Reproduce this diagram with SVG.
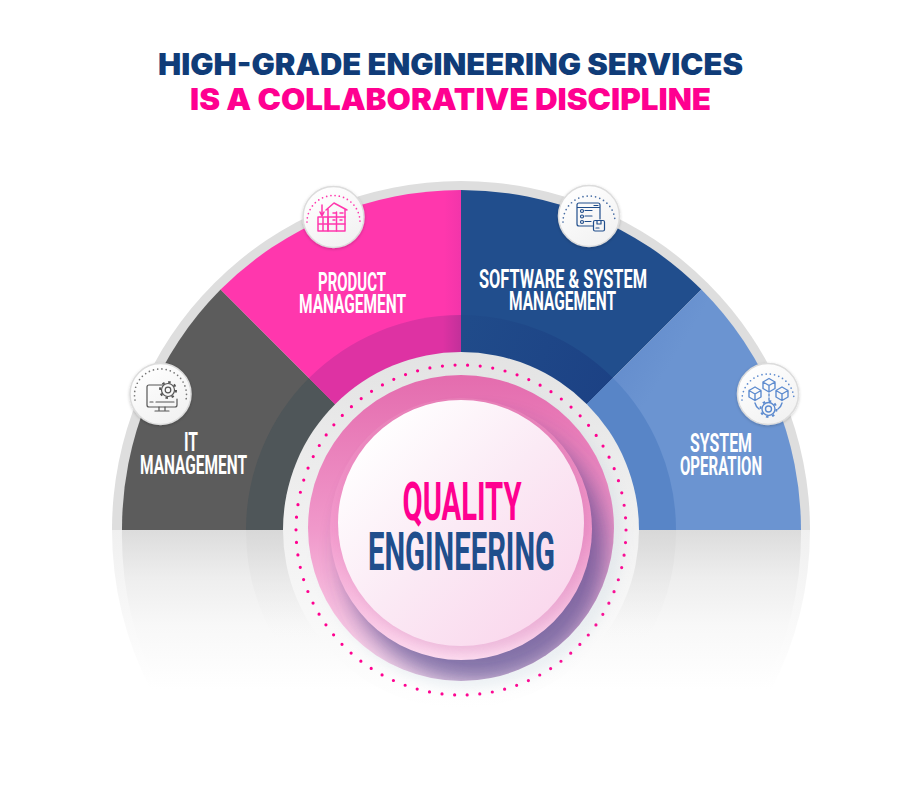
<svg xmlns="http://www.w3.org/2000/svg" xmlns:xlink="http://www.w3.org/1999/xlink" width="900" height="800" viewBox="0 0 900 800">
<style>
.title{font-family:"Inter","Liberation Sans",sans-serif;font-weight:900;font-size:29.500px}
.lab{font-family:"Roboto","Liberation Sans",sans-serif;font-weight:700;font-size:25px;fill:#fff;text-anchor:middle}
.big{font-family:"Roboto","Liberation Sans",sans-serif;font-weight:700;font-size:53px;text-anchor:middle}
.ic{fill:none;stroke-width:1.2;stroke-linejoin:round;stroke-linecap:round}
.badge{fill:url(#badge);stroke:#dcdcdc;stroke-width:1.5}
.dots{fill:none;stroke-width:1.7;stroke-linecap:round;stroke-dasharray:0 4.3}
</style>
<defs>
<linearGradient id="fadeRing" x1="0" y1="530" x2="0" y2="690" gradientUnits="userSpaceOnUse"><stop offset="0" stop-color="#f0f0f0"/><stop offset="1" stop-color="#fff"/></linearGradient>
<linearGradient id="fadeSec" x1="0" y1="530" x2="0" y2="690" gradientUnits="userSpaceOnUse"><stop offset="0" stop-color="#dcdcdc"/><stop offset=".3" stop-color="#eeeeee"/><stop offset=".6" stop-color="#f8f8f8"/><stop offset="1" stop-color="#fff"/></linearGradient>
<linearGradient id="fadeIn" x1="0" y1="530" x2="0" y2="640" gradientUnits="userSpaceOnUse"><stop offset="0" stop-color="#d8d8d8"/><stop offset="1" stop-color="#f6f6f6" stop-opacity="0"/></linearGradient>
<linearGradient id="halo" x1="0" y1="352" x2="0" y2="708" gradientUnits="userSpaceOnUse"><stop offset="0" stop-color="#e3e3e3"/><stop offset=".5" stop-color="#f1f1f1"/><stop offset="1" stop-color="#fff"/></linearGradient>
<linearGradient id="ringA" x1="0" y1="375" x2="0" y2="682" gradientUnits="userSpaceOnUse"><stop offset="0" stop-color="#e46cae"/><stop offset=".5" stop-color="#f098ca"/><stop offset="1" stop-color="#fde0f1"/></linearGradient>
<linearGradient id="ringB" x1="0" y1="398" x2="0" y2="660" gradientUnits="userSpaceOnUse"><stop offset="0" stop-color="#e880b8"/><stop offset=".5" stop-color="#f299cc"/><stop offset="1" stop-color="#fddcf0"/></linearGradient>
<linearGradient id="disc" x1="0.15" y1="0.1" x2="0.9" y2="0.85"><stop offset="0" stop-color="#fff"/><stop offset=".5" stop-color="#fbeaf5"/><stop offset="1" stop-color="#fad8ed"/></linearGradient>
<linearGradient id="badge" x1="0.2" y1="0" x2="0.8" y2="1"><stop offset="0" stop-color="#fff"/><stop offset="1" stop-color="#f1f1f1"/></linearGradient>
<linearGradient id="pinkS" x1="221" y1="0" x2="461" y2="0" gradientUnits="userSpaceOnUse"><stop offset="0" stop-color="#ff37ad"/><stop offset=".93" stop-color="#ff37ad"/><stop offset="1" stop-color="#f235aa"/></linearGradient>
<linearGradient id="pinkI" x1="309" y1="0" x2="461" y2="0" gradientUnits="userSpaceOnUse"><stop offset="0" stop-color="#de32a3"/><stop offset=".88" stop-color="#de32a3"/><stop offset="1" stop-color="#c2309a"/></linearGradient>
<linearGradient id="navyS" x1="461" y1="190" x2="702" y2="430" gradientUnits="userSpaceOnUse"><stop offset="0" stop-color="#214e8d"/><stop offset=".7" stop-color="#214e8d"/><stop offset="1" stop-color="#1d4589"/></linearGradient>
<linearGradient id="navyI" x1="461" y1="340" x2="613" y2="400" gradientUnits="userSpaceOnUse"><stop offset="0" stop-color="#204b8a"/><stop offset="1" stop-color="#1c4184"/></linearGradient>
<linearGradient id="blueS" x1="590" y1="400" x2="800" y2="530" gradientUnits="userSpaceOnUse"><stop offset="0" stop-color="#648dcd"/><stop offset=".2" stop-color="#6b94d1"/></linearGradient>
<clipPath id="pinkClip"><circle cx="461" cy="528" r="153"/></clipPath>
<clipPath id="midClip"><circle cx="461" cy="529" r="131"/></clipPath>
<filter id="b14" x="-30%" y="-30%" width="160%" height="160%"><feGaussianBlur stdDeviation="12"/></filter>
<filter id="b6" x="-30%" y="-30%" width="160%" height="160%"><feGaussianBlur stdDeviation="6"/></filter>
<filter id="soft" x="-30%" y="-30%" width="160%" height="160%"><feDropShadow dx="0" dy="1" stdDeviation="1.500" flood-color="#000" flood-opacity=".2"/></filter>
</defs>
<rect width="900" height="800" fill="#fff"/>

<g id="title">
<text class="title" x="158" y="75" textLength="585" lengthAdjust="spacingAndGlyphs" fill="#103c78">HIGH-GRADE ENGINEERING SERVICES</text>
<text class="title" x="190" y="110" textLength="521" lengthAdjust="spacingAndGlyphs" fill="#ff0090">IS A COLLABORATIVE DISCIPLINE</text>
</g>

<g id="fan">
<path d="M112 530A349 349 0 0 1 810 530Z" fill="#dedede"/>
<path d="M112 530H810A349 349 0 0 1 770 692H152A349 349 0 0 1 112 530Z" fill="url(#fadeRing)"/>
<path d="M122 530H801A340 340 0 0 1 762 692H160A340 340 0 0 1 122 530Z" fill="url(#fadeSec)"/>
<path d="M246 530H676A215 215 0 0 1 640 650H282A215 215 0 0 1 246 530Z" fill="url(#fadeIn)"/>
</g>

<g id="sector-it">
<path d="M461 530L220.600 289.600A340 340 0 0 0 122 530Z" fill="#5c5c5c"/>
<path d="M461 530L309 378A215 215 0 0 0 246 530Z" fill="#4f5659"/>
</g>
<g id="sector-product">
<path d="M461 530V190A340 340 0 0 0 220.600 289.600Z" fill="url(#pinkS)"/>
<path d="M461 530V315A215 215 0 0 0 309 378Z" fill="url(#pinkI)"/>
</g>
<g id="sector-software">
<path d="M461 530V190A340 340 0 0 1 701.400 289.600Z" fill="url(#navyS)"/>
<path d="M461 530V315A215 215 0 0 1 613 378Z" fill="url(#navyI)"/>
</g>
<g id="sector-operation">
<path d="M461 530L701.400 289.600A340 340 0 0 1 801 530Z" fill="url(#blueS)"/>
<path d="M461 530L613 378A215 215 0 0 1 676 530Z" fill="#5885c7"/>
</g>

<g id="label-it"><text class="lab" x="191" y="451" textLength="14" lengthAdjust="spacingAndGlyphs">IT</text><text class="lab" x="193.500" y="474" textLength="107" lengthAdjust="spacingAndGlyphs">MANAGEMENT</text></g>
<g id="label-product"><text class="lab" x="352" y="291" textLength="68" lengthAdjust="spacingAndGlyphs">PRODUCT</text><text class="lab" x="352.500" y="313" textLength="107" lengthAdjust="spacingAndGlyphs">MANAGEMENT</text></g>
<g id="label-software"><text class="lab" x="563" y="288" textLength="168" lengthAdjust="spacingAndGlyphs">SOFTWARE &amp; SYSTEM</text><text class="lab" x="562.500" y="310" textLength="107" lengthAdjust="spacingAndGlyphs">MANAGEMENT</text></g>
<g id="label-operation"><text class="lab" x="721" y="452" textLength="62" lengthAdjust="spacingAndGlyphs">SYSTEM</text><text class="lab" x="721" y="475" textLength="82" lengthAdjust="spacingAndGlyphs">OPERATION</text></g>

<g id="quality-engineering">
<circle cx="461" cy="530" r="178" fill="url(#halo)"/>
<circle cx="461" cy="530" r="165" fill="none" stroke="#ff0090" stroke-width="3.200" stroke-linecap="round" stroke-dasharray="0 12.643"/>
<circle cx="470" cy="536" r="153" fill="#b4c8d6" opacity=".22" filter="url(#b6)"/>
<circle cx="461" cy="528" r="153" fill="url(#ringA)"/>
<g clip-path="url(#pinkClip)"><circle cx="476" cy="552" r="131" fill="#37347f" opacity=".62" filter="url(#b14)"/></g>
<circle cx="461" cy="529" r="131" fill="url(#ringB)"/>
<g clip-path="url(#midClip)"><circle cx="466" cy="530" r="123" fill="#b04d96" opacity=".18" filter="url(#b6)"/></g>
<circle cx="461" cy="523" r="123" fill="url(#disc)"/>
<text class="big" x="462" y="520" textLength="119" lengthAdjust="spacingAndGlyphs" fill="#ff0090">QUALITY</text>
<text class="big" x="461.500" y="570" textLength="187" lengthAdjust="spacingAndGlyphs" fill="#204e8c">ENGINEERING</text>
</g>

<g id="badge-it">
<circle class="badge" cx="160.500" cy="394" r="30.500" filter="url(#soft)"/>
<path class="dots" stroke="#777" d="M135 400A26 26 0 1 1 186 400"/>
<g class="ic" stroke="#555">
<path d="M163 385H149a2 2 0 0 0-2 2v18a2 2 0 0 0 2 2h26a2 2 0 0 0 2-2v-6"/>
<path d="M150 402h3M156 402h18M159 407v3M165 407v3M155 411h14"/>
<circle cx="168" cy="390" r="6.500"/><circle cx="168" cy="390" r="2.800"/>
<circle cx="168" cy="390" r="8" stroke-width="2" stroke-linecap="butt" stroke-dasharray="2.500 3.780"/>
</g>
</g>

<g id="badge-product">
<circle class="badge" cx="333.500" cy="217" r="30.500" filter="url(#soft)"/>
<path class="dots" stroke="#ff37ad" d="M307 222A26 26 0 1 1 360 222"/>
<g class="ic" stroke="#ff37ad" style="stroke-width:1.500">
<path d="M326 210L334 203L347 210M328 209V231H345V209"/>
<path d="M328 217h17M328 224h17M336.500 212V231M318 217h10v14h-10zM318 224h10M323 217v14"/>
<path d="M322 205V215M320 212L322 216L324 212M333 213h3M340 213h3M333 220h2M340 220h2"/>
</g>
</g>

<g id="badge-software">
<circle class="badge" cx="589" cy="216" r="30.500" filter="url(#soft)"/>
<path class="dots" stroke="#4a6fa5" d="M563 222A26 26 0 1 1 615 222"/>
<g class="ic" stroke="#204e8c">
<path d="M593 226H579a2 2 0 0 1-2-2V205a2 2 0 0 1 2-2h19a2 2 0 0 1 2 2V219M577 207.500H600"/>
<circle cx="582" cy="211" r="1.500"/><circle cx="582" cy="216.500" r="1.500"/><circle cx="582" cy="222" r="1.500"/>
<path d="M585 210.500h7M585 216h7M585 221.500h6M594 205.500h4"/>
<rect x="593.500" y="220.500" width="11" height="10.500" rx="1.500"/><path d="M597 220.500v3.500h4v-3.500M596 228h3"/>
</g>
</g>

<g id="badge-operation">
<circle class="badge" cx="768" cy="394" r="30.500" filter="url(#soft)"/>
<path class="dots" stroke="#5d8bcf" d="M742 400A26 26 0 1 1 794 400"/>
<g class="ic" stroke="#5d8bcf" style="stroke-width:1.400">
<path d="M769 378.500L775 382V388.500L769 392L763 388.500V382ZM763 382L769 385.500L775 382M769 385.500V392"/>
<path d="M755 387L761 390.500V397L755 400.500L749 397V390.500ZM749 390.500L755 394L761 390.500M755 394V400.500"/>
<path d="M782 387L788 390.500V397L782 400.500L776 397V390.500ZM776 390.500L782 394L788 390.500M782 394V400.500"/>
<path d="M769 394v2M769 398v2M755 403Q756 407 759 409M782 403Q781 407 778 409"/>
<circle cx="768.500" cy="409" r="6.500"/><circle cx="768.500" cy="409" r="3"/>
<circle cx="768.500" cy="409" r="8" stroke-width="2" stroke-linecap="butt" stroke-dasharray="2.500 3.780"/>
</g>
</g>
</svg>
